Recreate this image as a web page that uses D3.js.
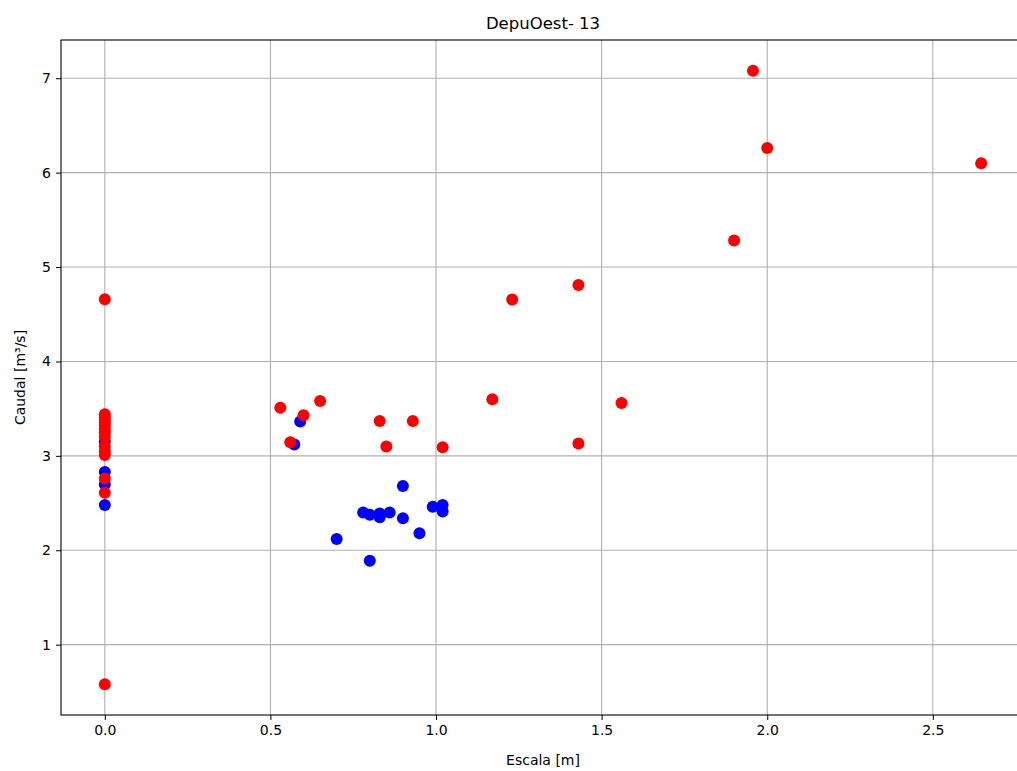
<!DOCTYPE html>
<html>
<head>
<meta charset="utf-8">
<script src="https://cdn.jsdelivr.net/npm/d3@7"></script>
<style>
  body { margin: 0; background: #fff; }
  text { font-family: "DejaVu Sans", sans-serif; }
</style>
</head>
<body>
<svg id="chart" width="1017" height="771"></svg>
<script>
// ---- data ----
const titleText = "DepuOest- 13";
const xLabel = "Escala [m]";
const yLabel = "Caudal [m³/s]";
const xTicks = [0.0, 0.5, 1.0, 1.5, 2.0, 2.5];
const yTicks = [1, 2, 3, 4, 5, 6, 7];

const blueX = [0, 0, 0, 0, 0.59, 0.572, 0.90, 0.78, 0.80, 0.83, 0.83, 0.86, 0.90, 0.95, 0.99, 1.02, 1.02, 0.80, 0.70];
const blueY = [3.15, 2.83, 2.70, 2.48, 3.365, 3.12, 2.68, 2.40, 2.375, 2.39, 2.35, 2.40, 2.34, 2.18, 2.46, 2.48, 2.41, 1.89, 2.12];

const redX = [0, 0, 0, 0, 0, 0, 0, 0, 0, 0, 0, 0, 0, 0, 0,
  0.53, 0.65, 0.60, 0.56, 0.83, 0.93, 0.85, 1.02, 1.23, 1.43, 1.17, 1.56, 1.43, 1.957, 2.00, 2.646, 1.90];
const redY = [4.66, 3.44, 3.41, 3.38, 3.35, 3.32, 3.28, 3.25, 3.20, 3.10, 3.05, 3.01, 2.76, 2.61, 0.58,
  3.51, 3.58, 3.43, 3.145, 3.37, 3.37, 3.10, 3.09, 4.655, 4.81, 3.60, 3.56, 3.13, 7.08, 6.26, 6.10, 5.28];

// ---- layout ----
const svg = d3.select("#chart");
const mLeft = 61, mRight = 1025, mTop = 40, mBottom = 715;

const x = d3.scaleLinear().domain([-0.1323, 2.7783]).range([mLeft, mRight]);
const y = d3.scaleLinear().domain([0.255, 7.405]).range([mBottom, mTop]);

svg.append("rect").attr("x", 0).attr("y", 0).attr("width", 1017).attr("height", 771).attr("fill", "#fff");

// grid
const grid = svg.append("g");
grid.selectAll(".gx").data(xTicks).enter().append("line")
  .attr("x1", d => x(d)).attr("x2", d => x(d)).attr("y1", mTop).attr("y2", mBottom)
  .attr("stroke", "#b0b0b0").attr("stroke-width", 1.1);
grid.selectAll(".gy").data(yTicks).enter().append("line")
  .attr("x1", mLeft).attr("x2", mRight).attr("y1", d => y(d)).attr("y2", d => y(d))
  .attr("stroke", "#b0b0b0").attr("stroke-width", 1.1);

// points
const blue = blueX.map((d, i) => [d, blueY[i]]);
const red = redX.map((d, i) => [d, redY[i]]);
const pts = svg.append("g");
pts.selectAll(".b").data(blue).enter().append("circle")
  .attr("cx", d => x(d[0])).attr("cy", d => y(d[1])).attr("r", 6).attr("fill", "#0000ff");
pts.selectAll(".r").data(red).enter().append("circle")
  .attr("cx", d => x(d[0])).attr("cy", d => y(d[1])).attr("r", 6).attr("fill", "#ff0000");

// axes
const xAxis = d3.axisBottom(x).tickValues(xTicks).tickFormat(d3.format(".1f")).tickSizeOuter(0).tickSize(5).tickPadding(5);
const yAxis = d3.axisLeft(y).tickValues(yTicks).tickFormat(d3.format("d")).tickSizeOuter(0).tickSize(5).tickPadding(5);

const gx = svg.append("g").attr("transform", `translate(0,${mBottom})`).call(xAxis);
const gy = svg.append("g").attr("transform", `translate(${mLeft},0)`).call(yAxis);
[gx, gy].forEach(g => {
  g.select(".domain").remove();
  g.selectAll("text").attr("font-size", 14).attr("fill", "#000").style("font-family", "DejaVu Sans, sans-serif");
  g.selectAll("line").attr("stroke", "#000").attr("stroke-width", 1);
});

// spines
svg.append("rect").attr("x", mLeft).attr("y", mTop).attr("width", mRight - mLeft).attr("height", mBottom - mTop)
  .attr("fill", "none").attr("stroke", "#000").attr("stroke-width", 1.1);

// labels
svg.append("text").attr("x", (mLeft + mRight) / 2).attr("y", 29).attr("text-anchor", "middle")
  .attr("font-size", 16.5).text(titleText);
svg.append("text").attr("x", (mLeft + mRight) / 2).attr("y", 765).attr("text-anchor", "middle")
  .attr("font-size", 14).text(xLabel);
svg.append("text").attr("transform", `translate(25,${(mTop + mBottom) / 2}) rotate(-90)`).attr("text-anchor", "middle")
  .attr("font-size", 14).text(yLabel);
</script>
</body>
</html>
